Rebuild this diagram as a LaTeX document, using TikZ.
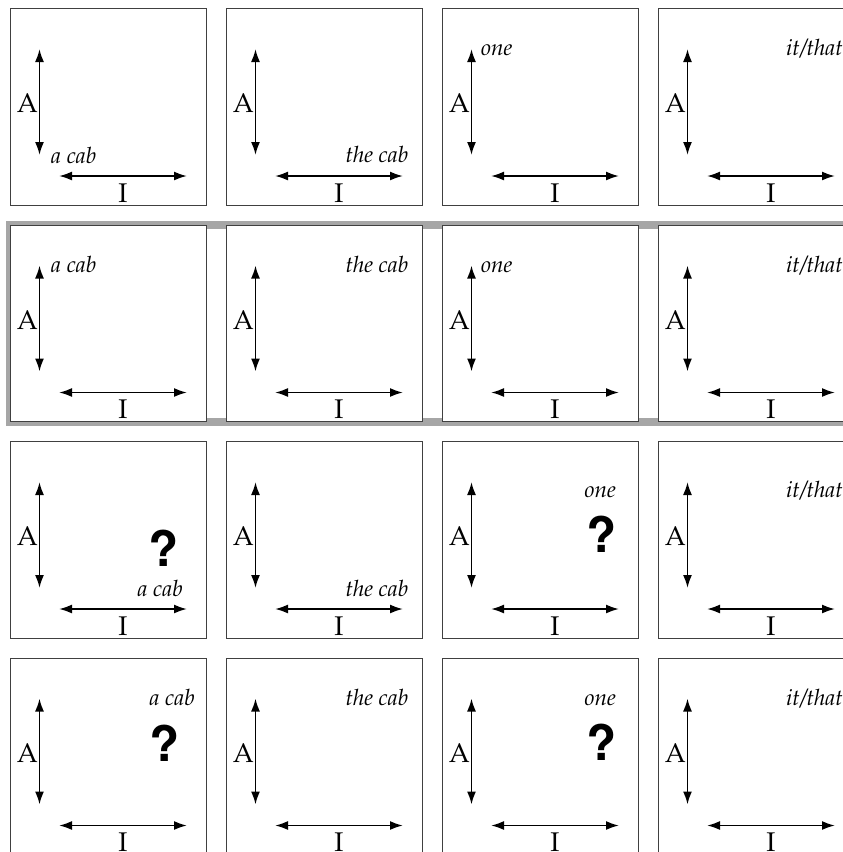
\documentclass[tikz,border=0pt]{standalone}
\usepackage[T1]{fontenc}
\usepackage{mathpazo}
\usetikzlibrary{arrows.meta,calc}
\begin{document}
\begin{tikzpicture}[x=1pt,y=-1pt,
panel/.style={draw=black!75,line width=0.8pt},
axis/.style={{Latex[length=13pt,width=9pt]}-{Latex[length=13pt,width=9pt]},line width=1.9pt},
axlabel/.style={inner sep=0pt,font=\fontsize{27}{30}\selectfont},
word/.style={inner sep=0pt,font=\fontsize{22.5}{26}\selectfont\itshape},
query/.style={inner sep=0pt,font=\fontfamily{phv}\bfseries\fontsize{49}{52}\selectfont}]
\useasboundingbox (0,0) rectangle (843,852);
\draw[gray!70,line width=8pt] (9.5,225) rectangle (870,422);
\foreach \c in {0,...,3}{
\foreach \r in {0,...,3}{
\coordinate (p\c\r) at (10+216*\c,8.5+216.5*\r);
\draw[panel,fill=white] (p\c\r) rectangle ++(196.5,196.5);
\draw[axis] ($(p\c\r)+(29.5,40.5)$) -- ++(0,106);
\node[axlabel,anchor=base east] (A\c\r) at ($(p\c\r)+(28,104)$) {A};
\draw[axis] ($(p\c\r)+(49,167.5)$) -- ++(128,0);
\node[axlabel,anchor=base] (I\c\r) at ($(p\c\r)+(113,193.5)$) {I};
}}
\node[word,anchor=base west] (w00) at ($(p00)+(41,155)$) {a cab};
\node[word,anchor=base east] (w10) at ($(p10)+(182.5,154)$) {the cab};
\node[word,anchor=base west] (w20) at ($(p20)+(39,47)$) {one};
\node[word,anchor=base east] (w30) at ($(p30)+(185,47)$) {it/that};
\node[word,anchor=base west] (w01) at ($(p01)+(41,47)$) {a cab};
\node[word,anchor=base east] (w11) at ($(p11)+(182.5,47)$) {the cab};
\node[word,anchor=base west] (w21) at ($(p21)+(39,47)$) {one};
\node[word,anchor=base east] (w31) at ($(p31)+(185,47)$) {it/that};
\node[query] (q02) at ($(p02)+(153,107.5)$) {?};
\node[word,anchor=base east] (w02) at ($(p02)+(173,155)$) {a cab};
\node[word,anchor=base east] (w12) at ($(p12)+(182.5,155)$) {the cab};
\node[word,anchor=base east] (w22) at ($(p22)+(174,56)$) {one};
\node[query] (q22) at ($(p22)+(159,93)$) {?};
\node[word,anchor=base east] (w32) at ($(p32)+(185,56)$) {it/that};
\node[word,anchor=base east] (w03) at ($(p03)+(185,47)$) {a cab};
\node[query] (q03) at ($(p03)+(154.5,86)$) {?};
\node[word,anchor=base east] (w13) at ($(p13)+(182.5,47)$) {the cab};
\node[word,anchor=base east] (w23) at ($(p23)+(174,47)$) {one};
\node[query] (q23) at ($(p23)+(159,84.5)$) {?};
\node[word,anchor=base east] (w33) at ($(p33)+(185,47)$) {it/that};
\end{tikzpicture}
\end{document}
